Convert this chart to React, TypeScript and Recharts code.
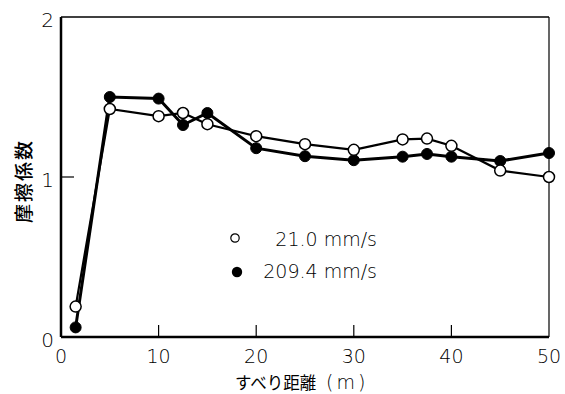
import React from 'react';
import { LineChart, Line, XAxis, YAxis, ReferenceLine, Legend } from 'recharts';

const distances = [1.5, 5, 10, 12.5, 15, 20, 25, 30, 35, 37.5, 40, 45, 50];
const slowValues = [0.19, 1.425, 1.38, 1.4, 1.33, 1.255, 1.205, 1.17, 1.235, 1.24, 1.195, 1.04, 1.0];
const fastValues = [0.06, 1.5, 1.49, 1.325, 1.4, 1.18, 1.13, 1.105, 1.127, 1.144, 1.127, 1.1, 1.15];
const seriesNames = ['21.0 mm/s', '209.4 mm/s'];
const xTicks = [0, 10, 20, 30, 40, 50];
const yTicks = [0, 1, 2];
const xLabelMain = 'すべり距離';
const xLabelUnit = '(m)';
const yLabel = '摩擦係数';

const data = distances.map((d, i) => ({ d, slow: slowValues[i], fast: fastValues[i] }));

const numFont = '"DejaVu Sans", sans-serif';
const cjkFont = '"Noto Sans CJK JP", sans-serif';

const XTick = (props: any) => {
  const { x, y, payload } = props;
  const v = payload.value;
  return (
    <g>
      {v > 0 && v < 50 && <line x1={x} x2={x} y1={y} y2={y - 12} stroke="#000" strokeWidth={1.2} />}
      <text x={x} y={y + 26} textAnchor="middle" fontFamily={numFont} fontWeight={200} fontSize={19} fill="#000">
        {v}
      </text>
    </g>
  );
};

const YTick = (props: any) => {
  const { x, y, payload } = props;
  const v = payload.value;
  return (
    <g>
      {v > 0 && v < 2 && <line x1={x} x2={x + 13} y1={y} y2={y} stroke="#000" strokeWidth={1.2} />}
      <text x={x - 7} y={y + 10} textAnchor="end" fontFamily={numFont} fontWeight={200} fontSize={20} fill="#000">
        {v}
      </text>
    </g>
  );
};

const LegendContent = () => (
  <svg width={170} height={64}>
    <circle cx={15} cy={14} r={4.2} fill="#fff" stroke="#000" strokeWidth={1.2} />
    <text x={157} y={22} textAnchor="end" fontFamily={numFont} fontWeight={200} fontSize={19} fill="#000">
      {seriesNames[0]}
    </text>
    <circle cx={17} cy={48} r={5.2} fill="#000" />
    <text x={157} y={54} textAnchor="end" fontFamily={numFont} fontWeight={200} fontSize={19} fill="#000">
      {seriesNames[1]}
    </text>
  </svg>
);

const YLabel = () => (
  <text
    x={22}
    y={181}
    transform="rotate(-90 22 181)"
    textAnchor="middle"
    dominantBaseline="central"
    fontFamily={cjkFont}
    fontSize={19}
    fontWeight={500}
    letterSpacing={2}
    fill="#000"
  >
    {yLabel}
  </text>
);

const XLabel = () => (
  <text y={389} fill="#000">
    <tspan x={235} fontFamily={cjkFont} fontSize={16.5}>
      {xLabelMain}
    </tspan>
    <tspan x={326} fontFamily={numFont} fontWeight={200} fontSize={19} letterSpacing={3}>
      {xLabelUnit}
    </tspan>
  </text>
);

export default function App() {
  return (
    <div style={{ position: 'absolute', left: 0, top: 0, width: 565, height: 394, background: '#fff' }}>
      <LineChart width={565} height={394} data={data} margin={{ top: 17, right: 16, bottom: 27, left: 21 }}>
        <XAxis
          dataKey="d"
          type="number"
          domain={[0, 50]}
          ticks={xTicks}
          height={30}
          tickSize={0}
          tickMargin={0}
          tickLine={false}
          tick={<XTick />}
          axisLine={{ stroke: '#000', strokeWidth: 2.5 }}
          label={{ value: xLabelMain, content: () => <XLabel /> }}
        />
        <YAxis
          type="number"
          domain={[0, 2]}
          ticks={yTicks}
          width={40}
          tickSize={0}
          tickMargin={0}
          tickLine={false}
          tick={<YTick />}
          axisLine={{ stroke: '#000', strokeWidth: 2.5 }}
          label={{ value: yLabel, content: () => <YLabel /> }}
        />
        <ReferenceLine y={2} stroke="#000" strokeWidth={1.5} />
        <ReferenceLine x={50} stroke="#000" strokeWidth={1.2} />
        <Legend
          verticalAlign="middle"
          align="center"
          content={() => <LegendContent />}
          wrapperStyle={{ position: 'absolute', left: 220, top: 224, width: 170, height: 64 }}
        />
        <Line
          dataKey="fast"
          name={seriesNames[1]}
          stroke="#000"
          strokeWidth={3}
          dot={{ r: 5.5, fill: '#000', stroke: '#000', strokeWidth: 1 }}
          isAnimationActive={false}
        />
        <Line
          dataKey="slow"
          name={seriesNames[0]}
          stroke="#000"
          strokeWidth={2.2}
          dot={{ r: 5.5, fill: '#fff', stroke: '#000', strokeWidth: 1.5 }}
          isAnimationActive={false}
        />
      </LineChart>
    </div>
  );
}
